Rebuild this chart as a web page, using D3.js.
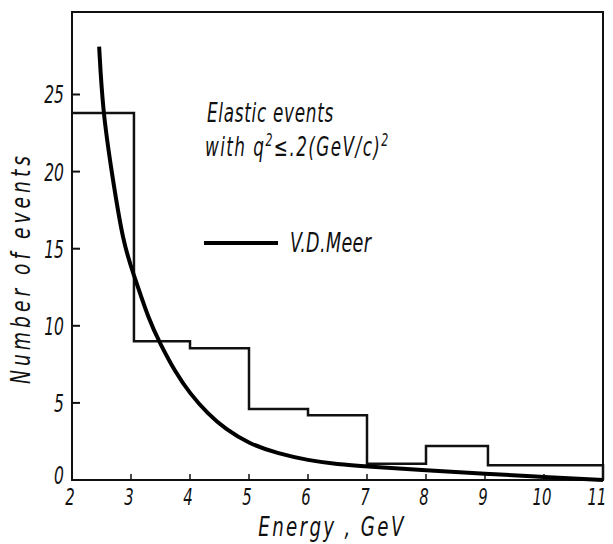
<!DOCTYPE html>
<html>
<head>
<meta charset="utf-8">
<script src="https://cdn.jsdelivr.net/npm/d3@7"></script>
<style>
  body { margin: 0; background: #fff; }
  text { font-family: "DejaVu Sans Condensed", "DejaVu Sans", sans-serif; font-style: italic; fill: #111; }
</style>
</head>
<body>
<div id="chart"></div>
<script>
var width = 613, height = 544;

// histogram bins (bin edges in GeV, counts per bin)
var binEdges = [2, 3.05, 4, 5, 6, 7, 8, 9.05, 11];
var binCounts = [23.8, 9.0, 8.55, 4.6, 4.2, 1.05, 2.2, 0.95];

// V.D. Meer curve
var meerE = [2.46, 2.52, 2.67, 2.87, 3.04, 3.3, 3.5, 3.75, 4.0, 4.3, 4.6, 5.0, 5.5, 6.0, 6.5, 7, 8, 9, 10, 11];
var meerN = [28.1, 24.0, 20.0, 15.3, 13.4, 10.4, 8.8, 7.0, 5.6, 4.3, 3.3, 2.35, 1.7, 1.28, 1.02, 0.88, 0.62, 0.4, 0.2, 0.0];

var xTicks = [2, 3, 4, 5, 6, 7, 8, 9, 10, 11];
var yTicks = [0, 5, 10, 15, 20, 25];

var svg = d3.select("#chart")
  .append("svg")
    .attr("width", width)
    .attr("height", height);

var x = d3.scaleLinear()
  .domain([2, 11])
  .range([72, 603]);

var y = d3.scaleLinear()
  .domain([0, 30.35])
  .range([480, 12]);

// narrow text: a group that squeezes the glyphs sideways
function label(px, py, str, size, anchor, sx, spacing, rot) {
  var g = svg.append("g")
    .attr("transform", "translate(" + px + "," + py + ")" + (rot ? " rotate(" + rot + ")" : "") + " scale(" + sx + ",1)");
  var t = g.append("text")
    .attr("text-anchor", anchor)
    .attr("font-size", size)
    .attr("letter-spacing", spacing || 0);
  if (str) t.text(str);
  return t;
}

// frame
svg.append("rect")
  .attr("x", x(2))
  .attr("y", y(30.35))
  .attr("width", x(11) - x(2))
  .attr("height", y(0) - y(30.35))
  .attr("fill", "none")
  .attr("stroke", "#111")
  .attr("stroke-width", 2);

// y ticks (pointing inward)
svg.selectAll("line.ytick")
  .data(yTicks.filter(function(d) { return d > 0; }))
  .enter().append("line")
    .attr("x1", x(2))
    .attr("x2", x(2) + 8)
    .attr("y1", function(d) { return y(d); })
    .attr("y2", function(d) { return y(d); })
    .attr("stroke", "#111")
    .attr("stroke-width", 2);

yTicks.forEach(function(d) {
  label(x(2) - 8, y(d) + (d == 0 ? 4 : 9), String(d), 24, "end", 0.72);
});

// x ticks (pointing inward)
svg.selectAll("line.xtick")
  .data(xTicks.slice(1, -1))
  .enter().append("line")
    .attr("x1", function(d) { return x(d); })
    .attr("x2", function(d) { return x(d); })
    .attr("y1", y(0))
    .attr("y2", y(0) - 6)
    .attr("stroke", "#111")
    .attr("stroke-width", 1.5);

xTicks.forEach(function(d) {
  label(x(d) - (d == 11 ? 6 : 2), 505, String(d), 23, "middle", 0.72);
});

// histogram as a step line
var steps = [];
binCounts.forEach(function(c, i) {
  steps.push([binEdges[i], c]);
  steps.push([binEdges[i + 1], c]);
});
steps.push([11, 0]);

svg.append("path")
  .datum(steps)
  .attr("fill", "none")
  .attr("stroke", "#111")
  .attr("stroke-width", 2.5)
  .attr("d", d3.line()
    .x(function(d) { return x(d[0]); })
    .y(function(d) { return y(d[1]); }));

// V.D. Meer curve
var meer = meerE.map(function(e, i) { return [e, meerN[i]]; });
svg.append("path")
  .datum(meer)
  .attr("fill", "none")
  .attr("stroke", "#000")
  .attr("stroke-width", 4)
  .attr("d", d3.line()
    .curve(d3.curveBasis)
    .x(function(d) { return x(d[0]); })
    .y(function(d) { return y(d[1]); }));

// axis titles
label(30, 268, "Number of events", 26, "middle", 0.8, 5, -90);
label(332, 536, "Energy , GeV", 26, "middle", 0.78, 3);

// annotation
label(207, 122, "Elastic events", 26, "start", 0.72, 1);

var note = label(205, 156, null, 26, "start", 0.72, 2);
note.append("tspan").text("with q");
note.append("tspan").attr("dy", -10).attr("font-size", 17).text("2");
note.append("tspan").attr("dy", 10).text("\u2264.2(GeV/c)");
note.append("tspan").attr("dy", -10).attr("font-size", 17).text("2");

// legend
svg.append("line")
  .attr("x1", 204)
  .attr("x2", 278)
  .attr("y1", 243)
  .attr("y2", 243)
  .attr("stroke", "#000")
  .attr("stroke-width", 4);

label(290, 252, "V.D.Meer", 26, "start", 0.75, 0.5);
</script>
</body>
</html>
